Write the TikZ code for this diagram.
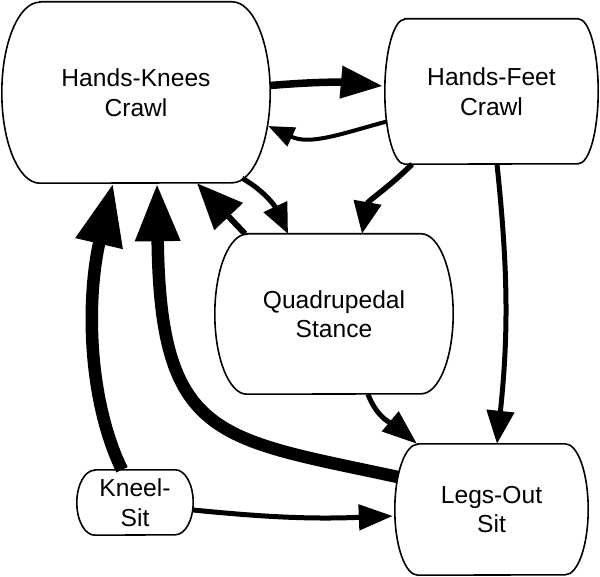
\documentclass[tikz,border=0pt]{standalone}
\usepackage{fontspec}
\setmainfont{Liberation Sans}
\usetikzlibrary{arrows.meta}

\begin{document}
\begin{tikzpicture}[
        x=1pt, y=-1pt,
        state/.style n args={3}{rectangle, minimum width=#1, minimum height=#2,
            inner sep=0pt, align=center, font=\fontsize{24.6}{29.5}\selectfont,
            append after command={\pgfextra{
                \draw[line width=1.6pt]
                ([xshift=#3]\tikzlastnode.north west) -- ([xshift=-#3]\tikzlastnode.north east)
                arc[start angle=90, end angle=-90, x radius=#3, y radius=#2/2]
                -- ([xshift=#3]\tikzlastnode.south west)
                arc[start angle=270, end angle=90, x radius=#3, y radius=#2/2] -- cycle;}}},
        tipsize/.style 2 args={arrows={-Triangle[length=#1, width=#2]}},
        flow/.style={line width=#1},
    ]
    \useasboundingbox (0,0) rectangle (600,577);

    \node[state={268pt}{181pt}{38pt}](hk) at (136,92.5){Hands-Knees\\Crawl};
    \node[state={213pt}{145pt}{20pt}](hf) at (491.5,91.5){Hands-Feet\\Crawl};
    \node[state={238pt}{160pt}{32pt}](qs) at (334,314){Quadrupedal\\Stance};
    \node[state={193pt}{131pt}{23pt}](lo) at (491.5,509.5){Legs-Out\\Sit};
    \node[state={116pt}{65pt}{18pt}](ks) at (135,502.5){Kneel-\\Sit};

    % crawling back and forth
    \draw[flow=7.5pt, tipsize={42pt}{31pt}] ([yshift=7pt]hk.east)
        to[bend left=5] ([xshift=-2pt, yshift=5.5pt]hf.west);
    \draw[flow=4pt, tipsize={26pt}{20pt}] ([xshift=2pt, yshift=-30pt]hf.west)
        to[out=195, in=-25] ([xshift=-2pt, yshift=-33.5pt]hk.east);
    % to and from the stance
    \draw[flow=5pt, tipsize={30pt}{25pt}] ([xshift=-28pt, yshift=5pt]hk.south east)
        to[out=-30, in=115] ([xshift=-46pt]qs.north);
    \draw[flow=5.5pt, tipsize={32pt}{27pt}] ([xshift=-79.5pt]hf.south)
        to[out=225, in=80] ([xshift=28pt]qs.north);
    \draw[flow=6pt, tipsize={46pt}{38pt}] ([xshift=-89pt]qs.north) -- ([xshift=61pt]hk.south);
    % into sitting
    \draw[flow=5pt, tipsize={33pt}{27pt}] ([xshift=5.5pt]hf.south)
        to[bend left=6] ([xshift=5.5pt]lo.north);
    \draw[flow=5pt, tipsize={35pt}{25pt}] ([xshift=34pt]qs.south)
        to[out=-70, in=140] ([xshift=-74.5pt]lo.north);
    \draw[flow=5pt, tipsize={34pt}{25pt}] ([yshift=-7.5pt]ks.east)
        to[bend right=4] ([xshift=-2pt, yshift=-6.5pt]lo.west);
    % back up to crawling
    \draw[flow=12.5pt, tipsize={58pt}{42pt}] ([xshift=3pt, yshift=32.5pt]lo.west)
        .. controls (217,438) and (160,440) .. ([xshift=21pt]hk.south);
    \draw[flow=12.5pt, tipsize={62pt}{45pt}] ([xshift=-13pt]ks.north)
        .. controls (88,400) and (86,300) .. ([xshift=-23pt]hk.south);

\end{tikzpicture}
\end{document}
